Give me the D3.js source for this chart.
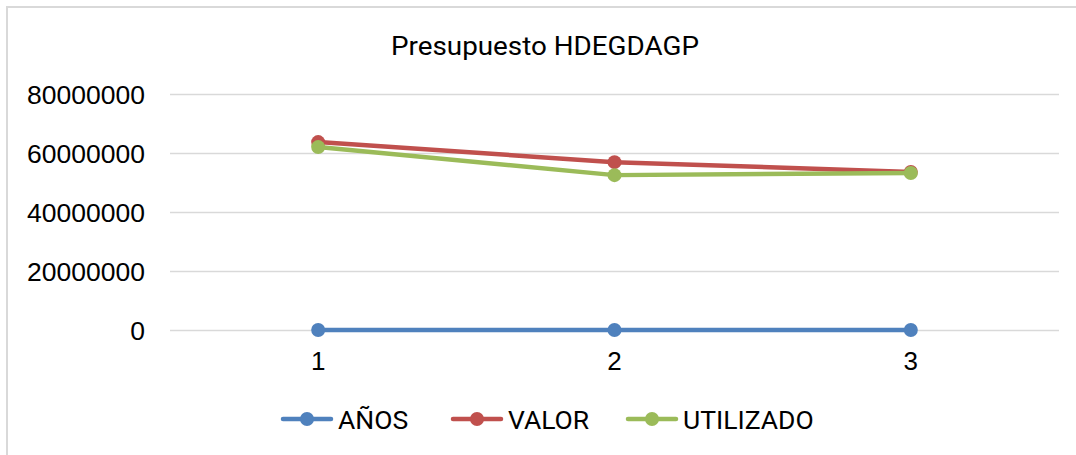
<!DOCTYPE html>
<html><head><meta charset="utf-8">
<script src="https://cdn.jsdelivr.net/npm/d3@7"></script>
<style>body{margin:0;background:#fff;} svg{display:block;font-family:Roboto,"Open Sans",sans-serif;}</style>
</head><body>
<svg id="c" width="1076" height="455"></svg>
<script>
const categories = ["1", "2", "3"];
const seriesNames = ["AÑOS", "VALOR", "UTILIZADO"];
const anos = [1, 2, 3];
const valor = [63700000, 56900000, 53600000];
const utilizado = [62000000, 52500000, 53200000];
const yTicks = [0, 20000000, 40000000, 60000000, 80000000];
const colors = ["#4f81bd", "#c0504d", "#9bbb59"];

(function(){
const svg = d3.select("#c");
svg.append("line").attr("x1",7).attr("x2",1076).attr("y1",7).attr("y2",7).attr("stroke","#d9d9d9").attr("stroke-width",2);
svg.append("line").attr("x1",7).attr("x2",7).attr("y1",6).attr("y2",455).attr("stroke","#d9d9d9").attr("stroke-width",2);

const pL = 170, pR = 1059, pT = 94, pB = 330;
const x = d3.scaleBand().domain(categories).range([pL, pR]);
const y = d3.scaleLinear().domain([0, 80000000]).range([pB, pT]);

svg.append("text").attr("x",545).attr("y",55).attr("text-anchor","middle")
  .attr("font-size",25).attr("fill","#000").attr("textLength",308).attr("lengthAdjust","spacingAndGlyphs")
  .text("Presupuesto HDEGDAGP");

const yAxis = d3.axisLeft(y).tickValues(yTicks).tickSize(-(pR-pL)).tickFormat(d3.format("d")).tickPadding(25);
const gy = svg.append("g").attr("transform",`translate(${pL},0)`).call(yAxis);
gy.select(".domain").remove();
gy.selectAll(".tick line").attr("stroke","#d9d9d9").attr("stroke-width",1.3);
gy.selectAll(".tick text").attr("font-size",26.5).attr("fill","#000").attr("dy","0.35em");

const xAxis = d3.axisBottom(x).tickSize(0).tickPadding(22);
const gx = svg.append("g").attr("transform",`translate(0,${pB})`).call(xAxis);
gx.select(".domain").remove();
gx.selectAll(".tick text").attr("font-size",26).attr("fill","#000");

const data = [anos, valor, utilizado];
const line = d3.line().x((d,i)=>x(categories[i])+x.bandwidth()/2).y(d=>y(d));
data.forEach((s,k)=>{
  svg.append("path").datum(s).attr("d",line).attr("fill","none")
    .attr("stroke",colors[k]).attr("stroke-width",4.5).attr("stroke-linejoin","round").attr("stroke-linecap","round");
  svg.selectAll(null).data(s).enter().append("circle")
    .attr("cx",(d,i)=>x(categories[i])+x.bandwidth()/2).attr("cy",d=>y(d)).attr("r",7)
    .attr("fill",colors[k]);
});

const legX = [283, 453, 628];
const legY = 419;
seriesNames.forEach((n,k)=>{
  const g = svg.append("g").attr("transform",`translate(${legX[k]},${legY})`);
  g.append("line").attr("x1",0).attr("x2",48).attr("y1",0).attr("y2",0)
    .attr("stroke",colors[k]).attr("stroke-width",4.5).attr("stroke-linecap","round");
  g.append("circle").attr("cx",24).attr("cy",0).attr("r",7).attr("fill",colors[k]);
  g.append("text").attr("x",55).attr("y",0).attr("dy","0.36em").attr("font-size",26.5).attr("fill","#000").text(n);
});
})();
</script>
</body></html>
